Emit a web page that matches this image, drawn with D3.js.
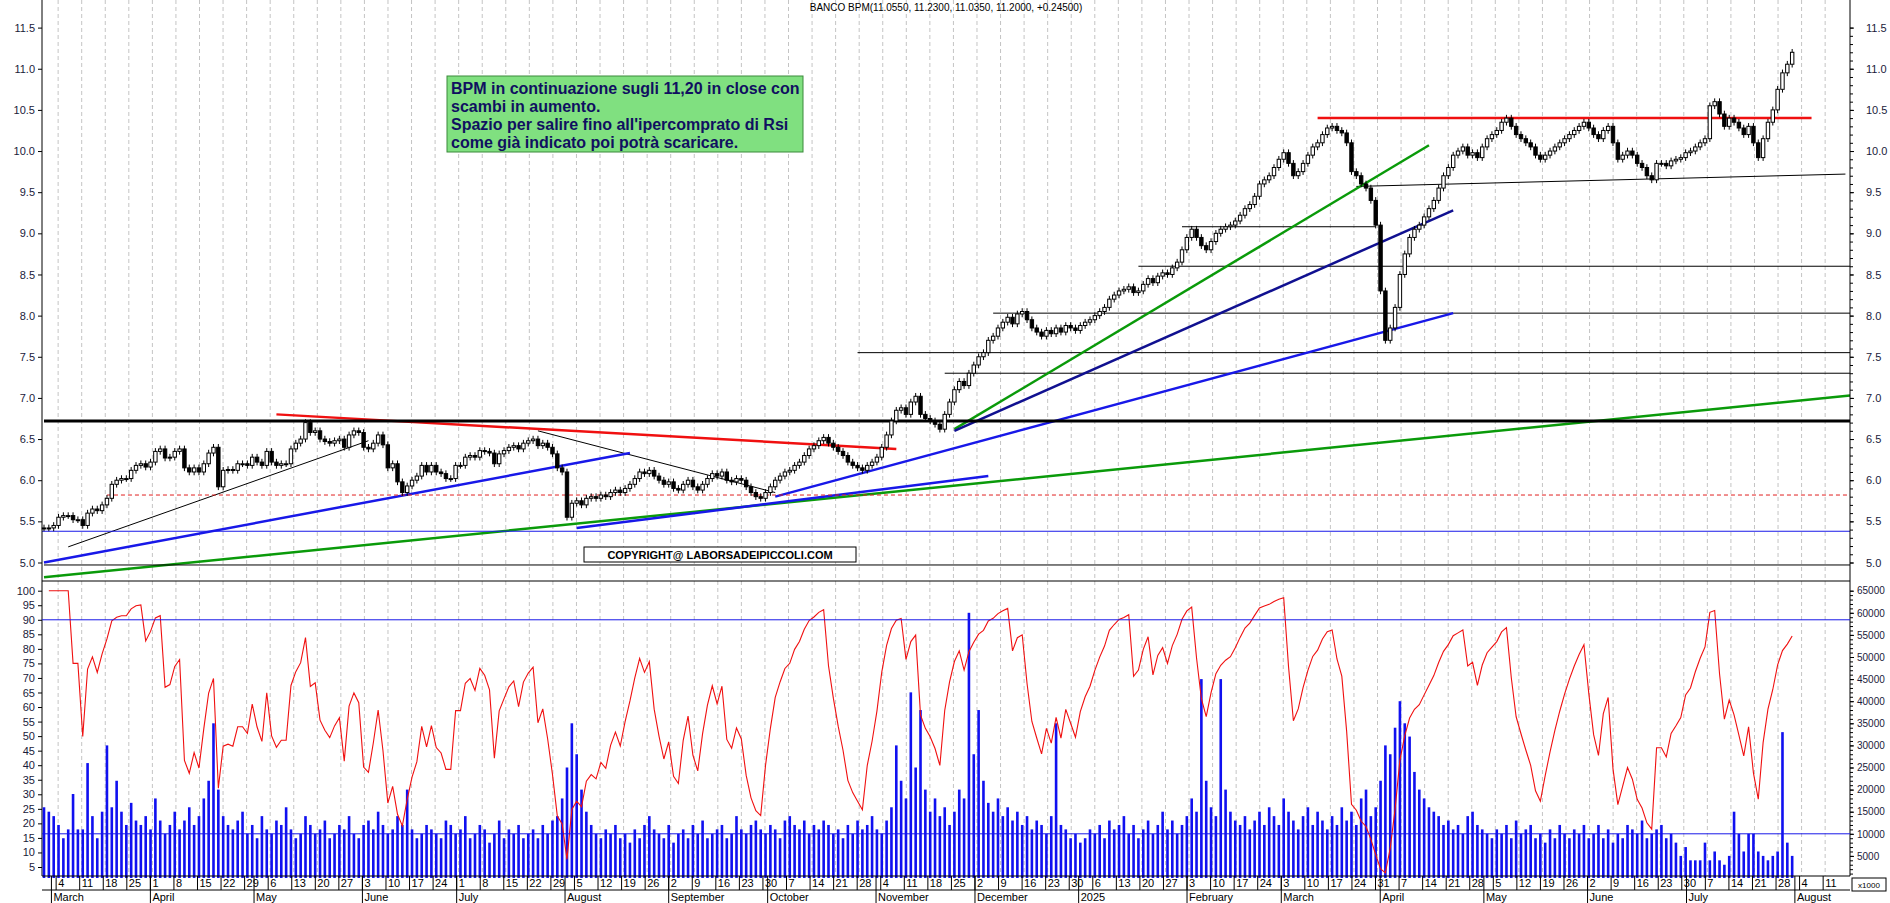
<!DOCTYPE html>
<html>
<head>
<meta charset="utf-8">
<script src="https://cdn.jsdelivr.net/npm/d3@7"></script>
<style>
  body { margin: 0; background: #fff; }
  svg { display: block; font-family: "Liberation Sans", Arial, sans-serif; }
</style>
</head>
<body>
<div id="chart"></div>
<script>
// daily closes
const closes = [
  5.42, 5.42, 5.45, 5.55, 5.57, 5.57, 5.52, 5.52, 5.45, 5.60, 5.65, 5.63, 5.70, 5.78, 5.95, 6.00,
  6.02, 6.02, 6.12, 6.18, 6.20, 6.16, 6.22, 6.35, 6.38, 6.27, 6.28, 6.35, 6.38, 6.15, 6.10, 6.15,
  6.10, 6.20, 6.33, 6.40, 5.92, 6.12, 6.13, 6.12, 6.20, 6.20, 6.18, 6.28, 6.22, 6.18, 6.35, 6.22,
  6.18, 6.20, 6.20, 6.38, 6.45, 6.50, 6.70, 6.58, 6.60, 6.50, 6.47, 6.45, 6.48, 6.50, 6.40, 6.55,
  6.60, 6.58, 6.40, 6.38, 6.45, 6.55, 6.43, 6.15, 6.20, 5.98, 5.85, 5.93, 6.00, 6.05, 6.18, 6.10,
  6.18, 6.10, 6.08, 6.02, 6.02, 6.18, 6.18, 6.28, 6.30, 6.28, 6.36, 6.35, 6.33, 6.20,
  6.32, 6.36, 6.40, 6.42, 6.38, 6.45, 6.48, 6.50, 6.42, 6.45,
  6.40, 6.32, 6.15, 6.10, 5.55, 5.72, 5.75, 5.70, 5.78, 5.80,
  5.78, 5.82, 5.80, 5.85, 5.88, 5.85, 5.90, 5.95, 6.02, 6.10,
  6.08, 6.12, 6.05, 6.00, 5.95, 5.98, 5.90, 5.88, 5.95, 6.00,
  5.92, 5.88, 5.95, 6.02, 6.08, 6.05, 6.10, 6.00, 5.98, 6.02,
  6.00, 5.92, 5.85, 5.80, 5.78, 5.85, 5.92, 6.00, 6.05, 6.10,
  6.12, 6.18, 6.22, 6.30, 6.38, 6.42, 6.48, 6.52, 6.45, 6.40,
  6.35, 6.30, 6.22, 6.18, 6.15, 6.12, 6.18, 6.22, 6.28, 6.40,
  6.55, 6.72, 6.85, 6.88, 6.80, 6.95, 7.02, 6.80, 6.75, 6.72,
  6.68, 6.62, 6.80, 6.95, 7.10, 7.20, 7.15, 7.30, 7.40, 7.50,
  7.55, 7.70, 7.75, 7.85, 7.92, 7.98, 7.90, 8.02, 8.05, 7.95,
  7.85, 7.80, 7.75, 7.82, 7.78, 7.85, 7.80, 7.88, 7.85, 7.82,
  7.88, 7.92, 7.95, 8.00, 8.05, 8.10, 8.20, 8.25, 8.30, 8.32,
  8.35, 8.28, 8.30, 8.38, 8.45, 8.40, 8.48, 8.52, 8.50, 8.58,
  8.65, 8.80, 8.95, 9.05, 8.95, 8.85, 8.80, 8.90, 9.00, 9.05,
  9.08, 9.10, 9.15, 9.22, 9.30, 9.35, 9.45, 9.60, 9.65, 9.70,
  9.80, 9.90, 9.98, 9.85, 9.70, 9.75, 9.85, 9.95, 10.05, 10.10,
  10.20, 10.28, 10.30, 10.25, 10.22, 10.10, 9.75, 9.70, 9.60, 9.55,
  9.40, 9.10, 8.30, 7.70, 7.85, 8.10, 8.50, 8.75, 8.95, 9.05,
  9.10, 9.20, 9.30, 9.40, 9.55, 9.70, 9.80, 9.95, 10.00, 10.05,
  9.95, 9.98, 9.92, 10.05, 10.15, 10.20, 10.25, 10.35, 10.40, 10.30,
  10.20, 10.15, 10.10, 10.05, 9.95, 9.90, 9.95, 10.00, 10.05, 10.10,
  10.15, 10.20, 10.25, 10.30, 10.35, 10.28, 10.20, 10.15, 10.25, 10.30,
  10.10, 9.90, 9.95, 10.00, 9.95, 9.85, 9.80, 9.70, 9.65, 9.85,
  9.85, 9.82, 9.88, 9.90, 9.92, 9.98, 10.00, 10.05, 10.10, 10.15,
  10.55, 10.60, 10.45, 10.30, 10.40, 10.35, 10.28, 10.20, 10.30, 10.10,
  9.92, 10.15, 10.35, 10.50, 10.75, 10.95, 11.055, 11.20
];

// daily volume, thousands
const volumes = [
  16,15,14,12,9,11,19,11,11,26,14,9,15,30,16,22,15,12,17,13,
  12,14,11,18,13,10,12,15,11,13,16,12,14,18,22,35,20,14,12,11,
  13,15,10,12,9,14,11,10,13,12,16,11,9,10,14,12,10,11,13,9,
  10,12,11,14,10,9,12,13,11,15,12,10,11,14,12,20,11,9,10,12,
  11,10,9,13,12,10,11,14,9,10,12,11,8,10,13,9,11,10,12,9,
  10,11,9,12,10,13,14,18,25,35,28,20,15,12,10,9,11,10,12,9,
  10,8,11,9,12,14,11,10,9,12,8,10,11,9,12,10,13,9,10,11,
  12,9,10,14,11,10,12,13,11,10,12,11,9,13,14,12,11,13,10,12,
  11,13,12,10,11,9,12,10,13,11,12,14,11,10,13,16,30,22,18,42,
  25,38,20,15,18,14,16,12,15,20,18,60,28,38,22,17,15,18,14,16,
  13,15,12,14,11,13,12,10,14,35,12,11,9,10,8,9,11,10,12,9,
  13,11,12,14,10,12,9,11,13,10,12,15,11,13,10,12,14,18,15,45,
  22,16,14,45,20,15,13,12,14,11,13,15,12,16,14,12,18,15,13,11,
  14,16,12,15,13,11,14,12,16,13,15,12,18,20,14,16,22,30,28,34,
  40,35,32,24,20,18,16,15,14,12,13,11,12,10,14,15,12,11,10,9,
  11,10,12,9,13,10,11,12,9,10,8,11,9,12,10,9,11,10,12,9,
  10,12,9,11,8,10,9,12,11,10,13,9,10,11,12,9,10,8,
  5,7,4,4,4,8,4,6,4,3,5,15,10,6,10,10,6,5,4,5,6,33,8,5,8,7,9
];

const priceTicks = [5.0, 5.5, 6.0, 6.5, 7.0, 7.5, 8.0, 8.5, 9.0, 9.5, 10.0, 10.5, 11.0, 11.5];
const rsiTicks = d3.range(5, 101, 5);
const volTicks = d3.range(5000, 65001, 5000);
const monthNames = ["January","February","March","April","May","June","July","August","September","October","November","December"];

// trend lines drawn on the chart: [startIndex, startPrice, endIndex, endPrice]
const blackLevels = [[0, 6.72, 380, 6.72], [0, 4.97, 380, 4.97]];
const thinLevels = [[235, 9.08, 275, 9.08], [226, 8.6, 380, 8.6], [196, 8.03, 380, 8.03],
  [168, 7.55, 380, 7.55], [186, 7.3, 380, 7.3], [271, 9.57, 372, 9.72],
  [5, 5.19, 67, 6.48], [102, 6.6, 151, 5.85]];
const redLines = [[48, 6.8, 176, 6.38], [263, 10.40, 365, 10.40]];
const blueLines = [[0, 5.0, 121, 6.33], [110, 5.42, 195, 6.05], [151, 5.8, 291, 8.03]];
const navyLines = [[188, 6.6, 291, 9.28]];
const greenLines = [[0, 4.82, 380, 7.03], [188, 6.62, 286, 10.07]];

const W = 1890, H = 903;
const L = 42, R = 1850;
const priceBot = 581, lowBot = 876;

const svg = d3.select("#chart").append("svg").attr("width", W).attr("height", H);

// weekday slots from 28 Feb 2024 to 15 Aug 2025
const days = d3.timeDay.range(new Date(2024, 1, 28), new Date(2025, 7, 16)).filter(d => d.getDay() > 0 && d.getDay() < 6);
const xs = d3.scaleLinear().domain([0, days.length - 1]).range([L + 2, R - 6]);
const lastSlot = days.findIndex(d => d.getMonth() === 6 && d.getDate() === 31 && d.getFullYear() === 2025);
const x = d3.scaleLinear().domain([0, closes.length - 1]).range([xs(0), xs(lastSlot)]);

const y = d3.scaleLinear().domain([5.0, 11.5]).range([562.5, 27.6]);
const yR = d3.scaleLinear().domain([5, 100]).range([867, 590.7]);
const yV = d3.scaleLinear().domain([0, 65000]).range([878, 590.7]);

// weekly dashed grid
const mondays = days.map((d, i) => [d, i]).filter(([d]) => d.getDay() === 1);
svg.append("g").selectAll("line").data(mondays).join("line")
  .attr("x1", d => xs(d[1])).attr("x2", d => xs(d[1]))
  .attr("y1", 0).attr("y2", lowBot)
  .attr("stroke", "#c4c4c4").attr("stroke-dasharray", "4,3");

// reference lines
const px = v => Math.min(x(v), R);
function drawLines(data, color, width, dash) {
  svg.append("g").selectAll("line").data(data).join("line")
    .attr("x1", d => px(d[0])).attr("y1", d => y(d[1]))
    .attr("x2", d => px(d[2])).attr("y2", d => y(d[3]))
    .attr("stroke", color).attr("stroke-width", width)
    .attr("stroke-dasharray", dash || null);
}
drawLines(thinLevels, "#000", 1);
drawLines(greenLines, "#0a9a0a", 2.5);
drawLines(blueLines, "#1818e8", 2.5);
drawLines(navyLines, "#101090", 2.5);
drawLines(redLines, "#f01010", 2.5);
drawLines(blackLevels.slice(0, 1), "#000", 3);
drawLines(blackLevels.slice(1), "#000", 1);
svg.append("line").attr("x1", x(13)).attr("x2", R).attr("y1", y(5.82)).attr("y2", y(5.82))
  .attr("stroke", "#e02020").attr("stroke-dasharray", "4,3");
svg.append("line").attr("x1", L).attr("x2", R).attr("y1", y(5.38)).attr("y2", y(5.38))
  .attr("stroke", "#1818e8").attr("stroke-width", 1.2);

// candles
const candles = closes.map((c, i) => {
  const o = i === 0 ? c : closes[i - 1];
  return { i, o, c, h: Math.max(o, c) + 0.04, l: Math.min(o, c) - 0.04 };
});
const cw = 3.4;
const cg = svg.append("g");
cg.selectAll("line").data(candles).join("line")
  .attr("x1", d => x(d.i)).attr("x2", d => x(d.i))
  .attr("y1", d => y(d.h)).attr("y2", d => y(d.l))
  .attr("stroke", "#000");
cg.selectAll("rect").data(candles).join("rect")
  .attr("x", d => x(d.i) - cw / 2).attr("width", cw)
  .attr("y", d => y(Math.max(d.o, d.c)))
  .attr("height", d => Math.max(1, Math.abs(y(d.o) - y(d.c))))
  .attr("fill", d => d.c >= d.o ? "#fff" : "#000")
  .attr("stroke", "#000").attr("stroke-width", 1);

// panel borders
svg.append("line").attr("x1", L).attr("x2", R).attr("y1", priceBot).attr("y2", priceBot).attr("stroke", "#000");
svg.append("line").attr("x1", L).attr("x2", L).attr("y1", 0).attr("y2", lowBot).attr("stroke", "#000");
svg.append("line").attr("x1", R).attr("x2", R).attr("y1", 0).attr("y2", lowBot).attr("stroke", "#000");

// volume bars
svg.append("g").selectAll("rect").data(volumes.slice(0, closes.length)).join("rect")
  .attr("x", (d, i) => x(i) - 1.3).attr("width", 2.6)
  .attr("y", d => yV(d * 1000)).attr("height", d => yV(0) - yV(d * 1000))
  .attr("fill", "#1010f0");

// RSI derived from the closes
const period = 6;
const rsi = [];
let ag = 0, al = 0;
closes.forEach((c, i) => {
  if (i === 0) { rsi.push(null); return; }
  const ch = c - closes[i - 1];
  const g = Math.max(ch, 0), lo = Math.max(-ch, 0);
  if (i <= period) { ag += g / period; al += lo / period; }
  else { ag = (ag * (period - 1) + g) / period; al = (al * (period - 1) + lo) / period; }
  rsi.push(al === 0 ? 100 : 100 - 100 / (1 + ag / al));
});
svg.append("path")
  .datum(rsi.map((v, i) => [i, v]).filter(d => d[1] !== null))
  .attr("d", d3.line().x(d => x(d[0])).y(d => yR(Math.max(3, d[1]))))
  .attr("fill", "none").attr("stroke", "#f01010").attr("stroke-width", 1.1);

svg.append("line").attr("x1", L).attr("x2", R).attr("y1", yR(90)).attr("y2", yR(90)).attr("stroke", "#1818e8");
svg.append("line").attr("x1", L).attr("x2", R).attr("y1", yV(10000)).attr("y2", yV(10000)).attr("stroke", "#1818e8");

// axes
const fs = "11px";
svg.append("g").attr("transform", `translate(${L},0)`)
  .call(d3.axisLeft(y).tickValues(priceTicks).tickFormat(d3.format(".1f")).tickSize(4))
  .call(g => g.select(".domain").remove()).attr("font-size", fs);
svg.append("g").attr("transform", `translate(${R},0)`)
  .call(d3.axisRight(y).tickValues(priceTicks).tickFormat(d3.format(".1f")).tickSize(4).tickPadding(12))
  .call(g => g.select(".domain").remove()).attr("font-size", fs);
svg.append("g").attr("transform", `translate(${R},0)`)
  .call(d3.axisRight(y).tickValues(d3.range(5.0, 11.6, 0.1)).tickFormat("").tickSize(3))
  .call(g => g.select(".domain").remove());
svg.append("g").attr("transform", `translate(${L},0)`)
  .call(d3.axisLeft(yR).tickValues(rsiTicks).tickSize(4))
  .call(g => g.select(".domain").remove()).attr("font-size", fs);
svg.append("g").attr("transform", `translate(${R},0)`)
  .call(d3.axisRight(yV).tickValues(volTicks).tickFormat(d3.format("d")).tickSize(4).tickPadding(3))
  .call(g => g.select(".domain").remove()).attr("font-size", "10px");
svg.append("g").attr("transform", `translate(${R},0)`)
  .call(d3.axisRight(yV).tickValues(d3.range(1000, 65001, 1000)).tickFormat("").tickSize(3))
  .call(g => g.select(".domain").remove());
svg.selectAll(".tick text").attr("fill", "#1a1a3a");
svg.append("rect").attr("x", R + 2).attr("y", 878).attr("width", 34).attr("height", 13)
  .attr("fill", "#fff").attr("stroke", "#000");
svg.append("text").attr("x", R + 19).attr("y", 888).attr("text-anchor", "middle")
  .attr("font-size", "8px").text("x1000");

// date axis
svg.append("line").attr("x1", L).attr("x2", R).attr("y1", lowBot).attr("y2", lowBot).attr("stroke", "#000");
svg.append("line").attr("x1", L).attr("x2", R).attr("y1", 890).attr("y2", 890).attr("stroke", "#000");
const dg = svg.append("g").attr("font-size", "11px");
mondays.forEach(([d, i]) => {
  dg.append("line").attr("x1", xs(i) - 2).attr("x2", xs(i) - 2).attr("y1", lowBot).attr("y2", 890).attr("stroke", "#000");
  dg.append("text").attr("x", xs(i)).attr("y", 887).text(d.getDate());
});
const monthStarts = days.map((d, i) => [d, i]).filter(([d, i]) => i > 0 && d.getMonth() !== days[i - 1].getMonth());
monthStarts.forEach(([d, i]) => {
  dg.append("line").attr("x1", xs(i) - 2).attr("x2", xs(i) - 2).attr("y1", 876).attr("y2", 903).attr("stroke", "#000");
  dg.append("text").attr("x", xs(i)).attr("y", 901)
    .text(d.getMonth() === 0 ? d.getFullYear() : monthNames[d.getMonth()]);
});

// title and notes
svg.append("text").attr("x", 946).attr("y", 11).attr("text-anchor", "middle").attr("font-size", "10px")
  .text("BANCO BPM(11.0550, 11.2300, 11.0350, 11.2000, +0.24500)");
svg.append("rect").attr("x", 447).attr("y", 76).attr("width", 356).attr("height", 76)
  .attr("fill", "#80e080").attr("stroke", "#3a8a3a");
const note = ["BPM in continuazione sugli 11,20 in close con", "scambi in aumento.",
  "Spazio per salire fino all'ipercomprato di Rsi", "come già indicato poi potrà scaricare."];
svg.append("g").selectAll("text").data(note).join("text")
  .attr("x", 451).attr("y", (d, i) => 94 + i * 18)
  .attr("font-size", "16px").attr("font-weight", "bold").attr("fill", "#101060").text(d => d);
svg.append("rect").attr("x", 584).attr("y", 547).attr("width", 272).attr("height", 15)
  .attr("fill", "#fff").attr("stroke", "#000");
svg.append("text").attr("x", 720).attr("y", 559).attr("text-anchor", "middle")
  .attr("font-size", "11px").attr("font-weight", "bold").text("COPYRIGHT@ LABORSADEIPICCOLI.COM");
</script>
</body>
</html>
